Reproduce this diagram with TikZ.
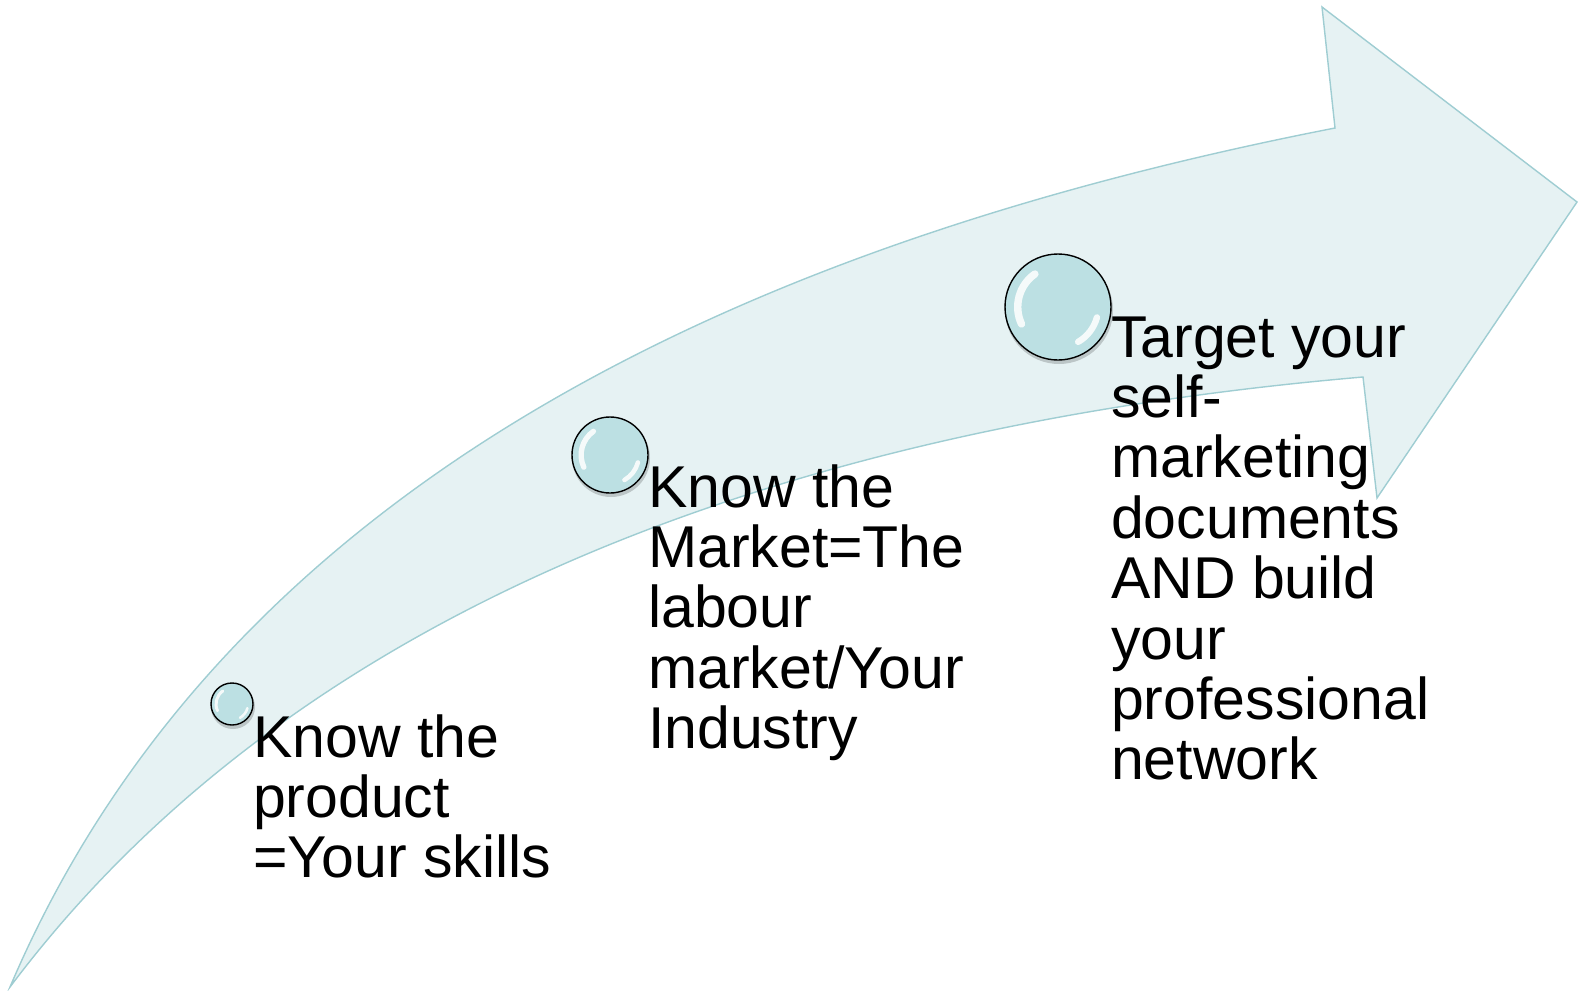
\documentclass[tikz,border=0pt]{standalone}
\usepackage{fontspec}
\setmainfont{Liberation Sans}
\definecolor{bandfill}{HTML}{E6F2F3}
\definecolor{bandline}{HTML}{9FCDD2}
\definecolor{bubblefill}{HTML}{BCE0E3}
\tikzset{
  band/.style={fill=bandfill, draw=bandline, line width=0.7pt, line join=miter},
  bubble/.style={circle, draw=black, line width=0.7pt, fill=bubblefill, inner sep=0pt},
  shine/.style={white, opacity=0.85, line cap=round},
  steptext/.style={anchor=north west, inner sep=0pt, align=left,
    font=\fontsize{29.5}{30.2}\selectfont}
}
\begin{document}
\begin{tikzpicture}[x=0.5pt, y=-0.5pt]
    \useasboundingbox (0,0) rectangle (1578,990);
    % the curved arrow
    \filldraw[band] (10,987) .. controls (230,470) and (772,238) .. (1335,128)
      -- (1322,7) -- (1577,202) -- (1377,498) -- (1363,377)
      .. controls (910,416) and (338,550) .. (10,987) -- cycle;
    % bubbles
    \foreach \n/\x/\y/\r in {skill/232/704/21, market/610/455/38, target/1058/307/53} {
        \fill[black, opacity=0.18] (\x+1,\y+3) circle (\r+1);
        \node[bubble, minimum size={\r*1pt}] (\n) at (\x,\y) {};
        \draw[shine, line width={\r*0.07pt}] (\x,\y) ++(-205:0.76*\r) arc (-205:-125:0.76*\r);
        \draw[shine, line width={\r*0.06pt}] (\x,\y) ++(15:0.76*\r) arc (15:60:0.76*\r);
    }
    % labels
    \node[steptext] (skilltext) at ([shift={(-1,10)}]skill.east) {Know the\\product\\=Your skills};
    \node[steptext] (markettext) at ([shift={(-1,9)}]market.east) {Know the\\Market=The\\labour\\market/Your\\Industry};
    \node[steptext] (targettext) at ([shift={(-1,9)}]target.east) {Target your\\self-\\marketing\\documents\\AND build\\your\\professional\\network};
\end{tikzpicture}
\end{document}
